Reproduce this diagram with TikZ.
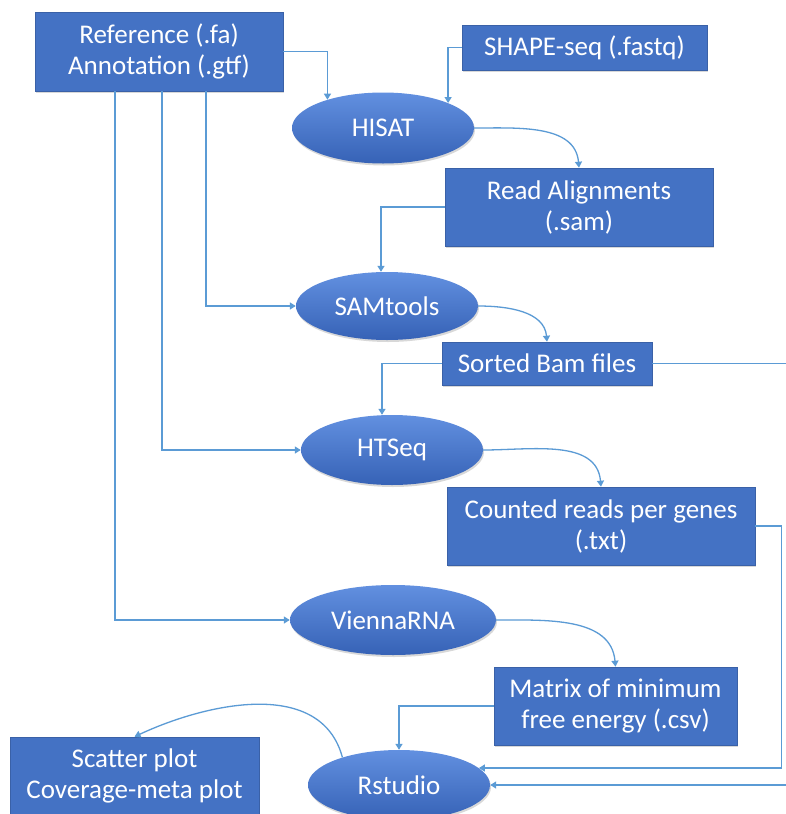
\documentclass[tikz,border=0pt]{standalone}
\usepackage{fontspec}
\setmainfont{Carlito}
\usetikzlibrary{shapes.geometric,arrows.meta,shadows}

\definecolor{boxblue}{RGB}{68,114,196}
\definecolor{elltop}{RGB}{98,144,224}
\definecolor{ellbot}{RGB}{54,98,182}
\definecolor{linkblue}{RGB}{91,155,213}

\tikzset{
  filebox/.style={rectangle, fill=boxblue, draw=boxblue!85!black, line width=0.6pt,
    text=white, align=center, inner sep=0pt,
    font=\fontsize{27}{31}\selectfont,
    drop shadow={opacity=0.3, shadow xshift=1pt, shadow yshift=-2pt}},
  toolnode/.style={ellipse, top color=elltop, bottom color=ellbot, draw=none,
    text=white, inner sep=0pt, minimum width=182pt, minimum height=70pt,
    font=\fontsize{27}{31}\selectfont,
    drop shadow={opacity=0.3, shadow xshift=1pt, shadow yshift=-2pt}},
  link/.style={draw=linkblue, line width=1.3pt, -{Triangle[width=7pt,length=6pt]}}
}

\begin{document}
\begin{tikzpicture}[x=1pt,y=-1pt]
\clip (0,0) rectangle (786,814);
\fill[white] (0,0) rectangle (786,814);

% inputs
\node[filebox, minimum width=248pt, minimum height=79pt] (ref) at (159,51.5) {Reference (.fa)\\Annotation (.gtf)};
\node[filebox, minimum width=245pt, minimum height=45pt] (shape) at (584.5,47.5) {SHAPE-seq (.fastq)};

% tools and files
\node[toolnode, minimum height=71pt] (hisat) at (383,128) {HISAT};
\node[filebox, minimum width=268pt, minimum height=78pt] (reads) at (579,207) {Read Alignments\\(.sam)};
\node[toolnode, minimum height=68pt] (samtools) at (387,306) {SAMtools};
\node[filebox, minimum width=210pt, minimum height=43pt] (sorted) at (547,363.5) {Sorted Bam files};
\node[toolnode] (htseq) at (392,450) {HTSeq};
\node[filebox, minimum width=308pt, minimum height=78pt] (counted) at (601,526) {Counted reads per genes\\(.txt)};
\node[toolnode, minimum width=206pt] (vienna) at (393,620) {ViennaRNA};
\node[filebox, minimum width=243pt, minimum height=78pt] (matrix) at (615.5,706) {Matrix of minimum\\free energy (.csv)};
\node[toolnode] (rstudio) at (399,785) {Rstudio};
\node[filebox, minimum width=249pt, minimum height=78pt] (scatter) at (134.5,776) {Scatter plot\\Coverage-meta plot};

% connectors
\draw[link] (ref.east) -| (hisat.153);
\draw[link] (shape.west) -| (hisat.21);
\draw[link] (hisat.east) to[out=0,in=95] (reads.north);
\draw[link] (reads.west) -| ([xshift=-6pt]samtools.north);
\draw[link] ([xshift=47pt]ref.south) |- (samtools.west);
\draw[link] ([xshift=3pt]ref.south) |- (htseq.west);
\draw[link] ([xshift=-44pt]ref.south) |- (vienna.west);
\draw[link] (samtools.east) to[out=0,in=95] (sorted.north);
\draw[link] (sorted.west) -| ([xshift=-10pt]htseq.north);
\draw[link] (sorted.east) -- ++(160,0) |- (rstudio.east);
\draw[link] (htseq.east) to[out=0,in=95] (counted.north);
\draw[link] (counted.east) -- ++(26,0) |- (rstudio.12);
\draw[link] (vienna.east) to[out=0,in=95] (matrix.north);
\draw[link] (matrix.west) -| (rstudio.north);
\draw[link] (rstudio.154) to[out=105,in=25] (scatter.north);
\end{tikzpicture}
\end{document}
